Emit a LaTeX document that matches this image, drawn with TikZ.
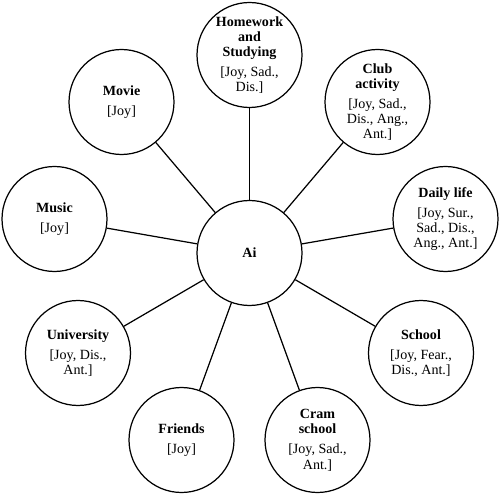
\documentclass[tikz,border=0pt]{standalone}
\usepackage{fontspec}
\setmainfont{Liberation Serif}
\usepackage{tikz}

\begin{document}
\begin{tikzpicture}[
    x=0.02cm, y=-0.02cm,
    topic/.style={circle, draw=black, line width=0.7pt, minimum size=2.1cm, inner sep=0pt, align=center, font=\fontsize{8}{8.6}\selectfont},
    hub/.style={circle, draw=black, line width=0.7pt, minimum size=2.1cm, inner sep=0pt, font=\fontsize{8}{8.6}\selectfont\bfseries},
    link/.style={line width=0.7pt, black},
]
\useasboundingbox (0,0) rectangle (500,496);

\node[hub] (ai) at (249.5,253) {Ai};

\node[topic] (homework) at (249.5,55) {\textbf{Homework}\\\textbf{and}\\\textbf{Studying}\\[3pt]{[Joy, Sad.,}\\Dis.]};
\node[topic] (club) at (377.5,102) {\textbf{Club}\\\textbf{activity}\\[3pt]{[Joy, Sad.,}\\Dis., Ang.,\\Ant.]};
\node[topic] (daily) at (445.5,219) {\textbf{Daily life}\\[3pt]{[Joy, Sur.,}\\Sad., Dis.,\\Ang., Ant.]};
\node[topic] (school) at (421,353) {\textbf{School}\\[3pt]{[Joy, Fear.,}\\Dis., Ant.]};
\node[topic] (cram) at (317.5,440) {\textbf{Cram}\\\textbf{school}\\[3pt]{[Joy, Sad.,}\\Ant.]};
\node[topic] (friends) at (181.5,440) {\textbf{Friends}\\[3pt]{[Joy]}};
\node[topic] (univ) at (78,353) {\textbf{University}\\[3pt]{[Joy, Dis.,}\\Ant.]};
\node[topic] (music) at (54.5,219) {\textbf{Music}\\[3pt]{[Joy]}};
\node[topic] (movie) at (121.5,102) {\textbf{Movie}\\[3pt]{[Joy]}};

\draw[link] (ai) -- (homework);
\draw[link] (ai) -- (club);
\draw[link] (ai) -- (daily);
\draw[link] (ai) -- (school);
\draw[link] (ai) -- (cram);
\draw[link] (ai) -- (friends);
\draw[link] (ai) -- (univ);
\draw[link] (ai) -- (music);
\draw[link] (ai) -- (movie);
\end{tikzpicture}
\end{document}
